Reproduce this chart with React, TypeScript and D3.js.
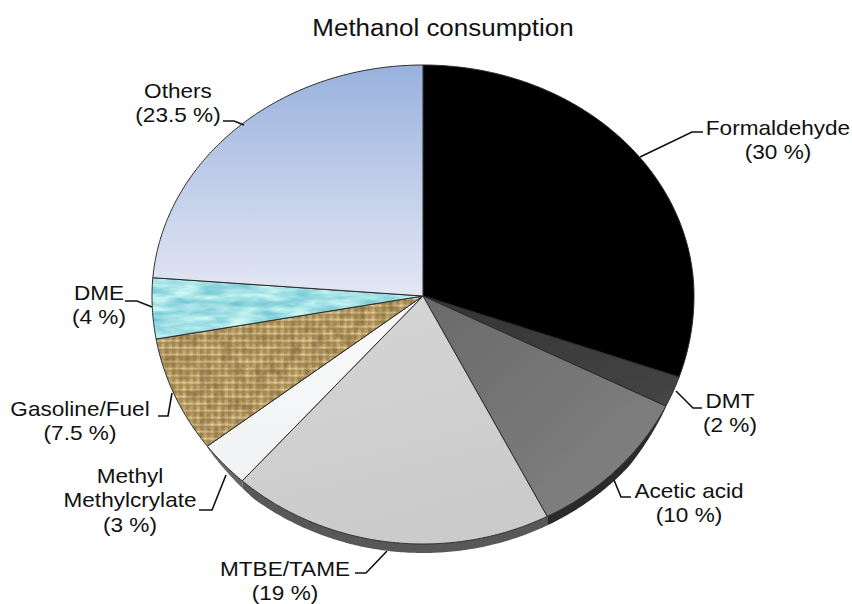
import React, { useMemo } from "react";
import * as d3 from "d3";

const categories = ["Formaldehyde", "DMT", "Acetic acid", "MTBE/TAME", "Methyl Methylcrylate", "Gasoline/Fuel", "DME", "Others"];
const shares = [30, 2, 10, 19, 3, 7.5, 4, 23.5];
const fills = ["#000000", "url(#dmtGrad)", "url(#aceticGrad)", "url(#mtbeGrad)", "url(#mmaGrad)", "url(#burlap)", "#afe2ea", "url(#othersGrad)"];
const textureFilters = ["", "", "", "", "", "url(#burlapNoise)", "url(#waterNoise)", ""];
const rimFills = ["none", "none", "#2b2b2b", "#585858", "#666666", "none", "none", "none"];
const labelLines = [
  ["Formaldehyde", "(30 %)"],
  ["DMT", "(2 %)"],
  ["Acetic acid", "(10 %)"],
  ["MTBE/TAME", "(19 %)"],
  ["Methyl", "Methylcrylate", "(3 %)"],
  ["Gasoline/Fuel", "(7.5 %)"],
  ["DME", "(4 %)"],
  ["Others", "(23.5 %)"],
];
const labelAnchors: [number, number][] = [[778, 135], [730, 408], [689, 498], [285, 575.5], [130, 483], [80, 416], [99, 300], [178, 98]];
const leaders: [number, number][][] = [
  [[640, 157], [692, 132], [703, 132]],
  [[676, 391], [693, 408], [702, 408]],
  [[614, 480], [621, 497], [631, 497]],
  [[387, 551], [366, 573], [355, 573]],
  [[226, 475], [212, 510], [199, 510]],
  [[172, 393], [168, 416], [158, 416]],
  [[152, 307], [137, 301], [125, 301]],
  [[244, 125], [234, 121], [223, 121]],
];

const W = 852, H = 604;
const cx = 423, cy = 296, rx = 271, ryTop = 231, ryBottom = 248, depth = 9;
const stretch = 1.13;

const px = (a: number) => cx + rx * Math.sin(a);
const py = (a: number) => {
  const c = Math.cos(a);
  return cy - c * (c > 0 ? ryTop : ryBottom);
};
const sampleAngles = (a0: number, a1: number) => {
  const n = Math.max(2, Math.ceil((a1 - a0) / 0.01));
  return d3.range(n + 1).map((i) => a0 + ((a1 - a0) * i) / n);
};
const line = d3.line<[number, number]>();

export default function App() {
  const arcs = useMemo(() => d3.pie<number>().sort(null)(shares), []);
  const rimStart = arcs[2].startAngle;
  const rimEnd = arcs[4].endAngle;
  const taper = (a: number) => {
    const t = (a - rimStart) / (rimEnd - rimStart);
    return depth * Math.min(1, Math.min(t, 1 - t) * 7 + 0.15);
  };
  const slicePath = (a0: number, a1: number) =>
    line([[cx, cy], ...sampleAngles(a0, a1).map((a) => [px(a), py(a)] as [number, number])]) + "Z";
  const rimPath = (a0: number, a1: number) => {
    const s = sampleAngles(a0, a1);
    const top = s.map((a) => [px(a), py(a)] as [number, number]);
    const bot = s.slice().reverse().map((a) => [px(a), py(a) + taper(a)] as [number, number]);
    return line([...top, ...bot]) + "Z";
  };
  return (
    <svg width={W} height={H} viewBox={`0 0 ${W} ${H}`} style={{ position: "absolute", left: 0, top: 0, background: "#fff" }} fontFamily="'Liberation Sans', Arial, sans-serif">
      <defs>
        <linearGradient id="dmtGrad" x1="0" y1="0" x2="1" y2="1">
          <stop offset="0" stopColor="#333" />
          <stop offset="1" stopColor="#454545" />
        </linearGradient>
        <linearGradient id="aceticGrad" x1="0" y1="0" x2="1" y2="1">
          <stop offset="0" stopColor="#6a6a6a" />
          <stop offset="1" stopColor="#838383" />
        </linearGradient>
        <linearGradient id="mtbeGrad" x1="0" y1="0" x2="0.3" y2="1">
          <stop offset="0" stopColor="#d6d6d6" />
          <stop offset="1" stopColor="#cbcbcb" />
        </linearGradient>
        <linearGradient id="mmaGrad" x1="0" y1="0" x2="0" y2="1">
          <stop offset="0" stopColor="#fbfbfb" />
          <stop offset="1" stopColor="#f1f2f4" />
        </linearGradient>
        <linearGradient id="othersGrad" x1="0" y1="0" x2="0" y2="1">
          <stop offset="0" stopColor="#98b1de" />
          <stop offset="0.5" stopColor="#c0cde9" />
          <stop offset="1" stopColor="#e3e7f4" />
        </linearGradient>
        <pattern id="burlap" width="7" height="7" patternUnits="userSpaceOnUse">
          <rect width="7" height="7" fill="#a88c55" />
          <rect x="0.5" y="0.5" width="3.4" height="6" fill="#c6aa72" />
          <rect x="0" y="3.6" width="7" height="2" fill="#dac48e" opacity="0.8" />
          <rect x="1.2" y="3.9" width="1.6" height="1.3" fill="#e6d4a2" />
        </pattern>
        <filter id="waterNoise" x="0" y="0" width="100%" height="100%" colorInterpolationFilters="sRGB">
          <feTurbulence type="fractalNoise" baseFrequency="0.035 0.13" numOctaves="3" seed="7" />
          <feColorMatrix type="matrix" values="0.55 0 0 0 0.36  0.3 0 0 0 0.73  0.18 0 0 0 0.81  0 0 0 0 1" />
        </filter>
        <filter id="burlapNoise" x="0" y="0" width="100%" height="100%" colorInterpolationFilters="sRGB">
          <feTurbulence type="fractalNoise" baseFrequency="0.09" numOctaves="3" seed="3" />
          <feColorMatrix type="matrix" values="0 0 0 0 0.4  0 0 0 0 0.3  0 0 0 0 0.14  0.9 0 0 0 -0.33" />
        </filter>
        {arcs.map((d, i) => (
          <clipPath key={categories[i]} id={`clip${i}`}>
            <path d={slicePath(d.startAngle, d.endAngle)} />
          </clipPath>
        ))}
        <filter id="soft" x="-2%" y="-2%" width="104%" height="104%">
          <feGaussianBlur stdDeviation="0.5" />
        </filter>
      </defs>

      <text x={443} y={36} textAnchor="middle" fontSize={23} fill="#111" transform={`translate(443 0) scale(${stretch} 1) translate(-443 0)`}>Methanol consumption</text>

      <g filter="url(#soft)">
        {arcs.map((d, i) =>
          rimFills[i] === "none" ? null : (
            <path key={categories[i] + "rim"} d={rimPath(d.startAngle, d.endAngle)} fill={rimFills[i]} />
          )
        )}
        {arcs.map((d, i) => (
          <g key={categories[i]}>
            <path d={slicePath(d.startAngle, d.endAngle)} fill={fills[i]} />
            {textureFilters[i] && (
              <g clipPath={`url(#clip${i})`}>
                <rect x={140} y={260} width={300} height={200} filter={textureFilters[i]} />
              </g>
            )}
            <path d={slicePath(d.startAngle, d.endAngle)} fill="none" stroke="#2b2b2b" strokeWidth={1} strokeLinejoin="round" />
          </g>
        ))}
      </g>

      {leaders.map((pts, i) => (
        <path key={i} d={line(pts) ?? ""} fill="none" stroke="#111" strokeWidth={1.6} />
      ))}

      {labelLines.map((lines, i) => {
        const [x, y] = labelAnchors[i];
        return (
          <text key={i} textAnchor="middle" fontSize={20} fill="#111" transform={`translate(${x} ${y}) scale(${stretch} 1)`}>
            {lines.map((t, j) => (
              <tspan key={j} x={0} y={j * 24.4}>{t}</tspan>
            ))}
          </text>
        );
      })}
    </svg>
  );
}
